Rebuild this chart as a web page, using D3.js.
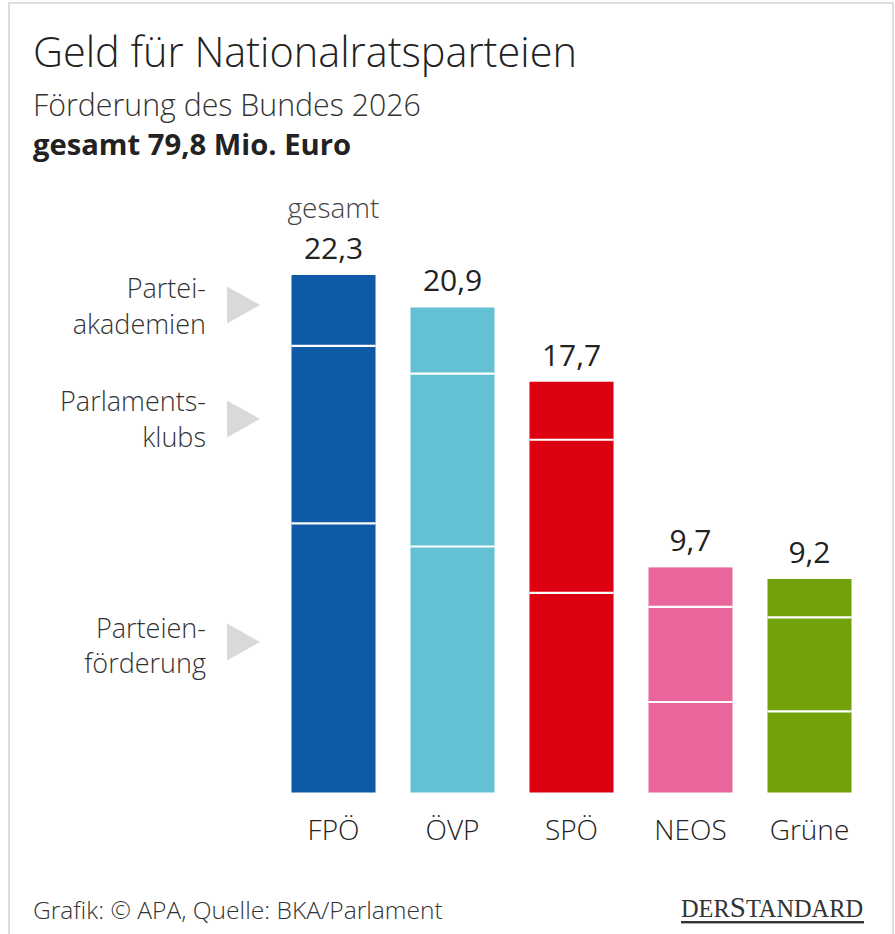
<!DOCTYPE html>
<html><head><meta charset="utf-8">
<script src="https://cdn.jsdelivr.net/npm/d3@7"></script>
<style>body{margin:0;background:#fff}svg{display:block}text{font-family:'Open Sans',sans-serif}</style>
</head><body><svg id="c" width="895" height="934"></svg>
<script>
// ---- data ----
const categories = ["FPÖ", "ÖVP", "SPÖ", "NEOS", "Grüne"];
const totals = [22.3, 20.9, 17.7, 9.7, 9.2];
const totalLabels = ["22,3", "20,9", "17,7", "9,7", "9,2"];
const parteienfoerderung = [11.6, 10.6, 8.6, 3.9, 3.5];
const parlamentsklubs = [7.65, 7.45, 6.6, 4.1, 4.05];
const parteiakademien = [3.05, 2.85, 2.5, 1.7, 1.65];
const segmentKeys = ["Parteienförderung", "Parlamentsklubs", "Parteiakademien"];
const legendLines = [["Partei-", "akademien"], ["Parlaments-", "klubs"], ["Parteien-", "förderung"]];
const partyColors = ["#0e5aa7", "#63c1d3", "#dc0011", "#e9679d", "#72a10c"];

const title = "Geld für Nationalratsparteien";
const subtitle = "Förderung des Bundes 2026";
const subtitle2 = "gesamt 79,8 Mio. Euro";
const source = "Grafik: © APA, Quelle: BKA/Parlament";

// ---- layout ----
const svg = d3.select("#c");
const W = 895, H = 934;

svg.append("rect").attr("x", 9).attr("y", 3).attr("width", 884).attr("height", H + 10)
  .attr("fill", "none").attr("stroke", "#dedede").attr("stroke-width", 2);

function fit(sel, target) {
  const fs = parseFloat(sel.attr("font-size"));
  const w = sel.node().getComputedTextLength();
  sel.attr("font-size", (fs * target / w).toFixed(2));
  return sel;
}

fit(svg.append("text").attr("x", 33).attr("y", 67).attr("font-size", 36).attr("font-weight", 300)
  .attr("fill", "#222").text(title), 544);
fit(svg.append("text").attr("x", 33).attr("y", 116).attr("font-size", 28).attr("font-weight", 300)
  .attr("fill", "#333").text(subtitle), 388);
fit(svg.append("text").attr("x", 33).attr("y", 155).attr("font-size", 28)
  .attr("font-weight", 700).attr("fill", "#222").text(subtitle2), 318);

const rows = categories.map((c, i) => ({
  cat: c, i,
  "Parteienförderung": parteienfoerderung[i],
  "Parlamentsklubs": parlamentsklubs[i],
  "Parteiakademien": parteiakademien[i]
}));
const stacked = d3.stack().keys(segmentKeys)(rows);

const x = d3.scaleBand().domain(categories).range([291.5, 851.5]).paddingInner(0.294).paddingOuter(0);
const y = d3.scaleLinear().domain([0, 22.3]).range([792.5, 275]);

const g = svg.append("g");
stacked.forEach(layer => {
  g.selectAll(null).data(layer).join("rect")
    .attr("x", d => x(d.data.cat))
    .attr("width", x.bandwidth())
    .attr("y", d => y(d[1]))
    .attr("height", d => y(d[0]) - y(d[1]))
    .attr("fill", d => partyColors[d.data.i]);
});
// white separators
stacked.slice(1).forEach(layer => {
  g.selectAll(null).data(layer).join("line")
    .attr("x1", d => x(d.data.cat)).attr("x2", d => x(d.data.cat) + x.bandwidth())
    .attr("y1", d => y(d[0])).attr("y2", d => y(d[0]))
    .attr("stroke", "#fff").attr("stroke-width", 2.2);
});

// value labels
svg.selectAll(null).data(categories).join("text")
  .attr("x", d => x(d) + x.bandwidth() / 2)
  .attr("y", (d, i) => y(totals[i]) - 16)
  .attr("text-anchor", "middle").attr("font-size", 30).attr("fill", "#222")
  .text((d, i) => totalLabels[i]);
svg.append("text").attr("x", x(categories[0]) + x.bandwidth() / 2).attr("y", 218)
  .attr("text-anchor", "middle").attr("font-size", 28).attr("font-weight", 300).attr("fill", "#444").text("gesamt");

// category labels
svg.selectAll(null).data(categories).join("text")
  .attr("x", d => x(d) + x.bandwidth() / 2).attr("y", 840)
  .attr("text-anchor", "middle").attr("font-size", 28).attr("font-weight", 300).attr("fill", "#222")
  .text(d => d);

// legend
const legendTri = [305, 419, 642];
const legendBase = [[298, 334], [411, 447], [638, 673]];
legendLines.forEach((lines, k) => {
  svg.append("path")
    .attr("d", `M227,${legendTri[k] - 18.5}L260,${legendTri[k]}L227,${legendTri[k] + 18.5}Z`)
    .attr("fill", "#d9d9d9");
  lines.forEach((t, j) => {
    svg.append("text").attr("x", 206).attr("y", legendBase[k][j])
      .attr("text-anchor", "end").attr("font-size", 27).attr("font-weight", 300).attr("fill", "#333").text(t);
  });
});

// footer
fit(svg.append("text").attr("x", 33).attr("y", 919).attr("font-size", 21).attr("font-weight", 300)
  .attr("fill", "#333").text(source), 410);

const logo = svg.append("text").attr("x", 681).attr("y", 917)
  .attr("font-family", "'Liberation Serif', 'DejaVu Serif', serif").attr("font-size", 23)
  .attr("fill", "#333");
logo.append("tspan").text("DER");
logo.append("tspan").attr("font-size", 29).text("S");
logo.append("tspan").text("TANDARD");
logo.style("font-family", "'Liberation Serif', serif");
fit(logo, 183);
svg.append("rect").attr("x", 681).attr("y", 921).attr("width", 183).attr("height", 2.4).attr("fill", "#333");
</script></body></html>
